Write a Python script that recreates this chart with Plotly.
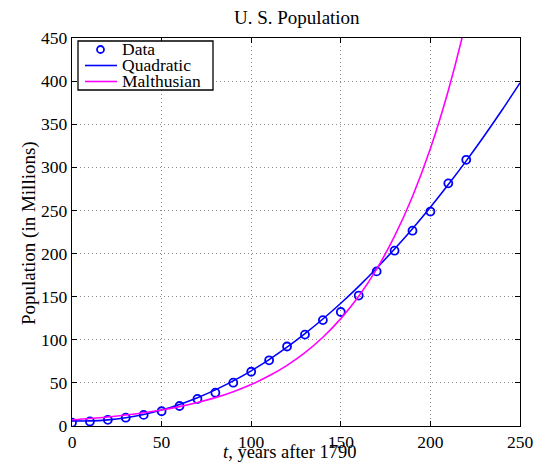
import plotly.graph_objects as go

# Census data (years after 1790, population in millions)
t_data = [0, 10, 20, 30, 40, 50, 60, 70, 80, 90, 100, 110, 120, 130, 140, 150, 160, 170, 180, 190, 200, 210, 220]
pop_data = [3.9, 5.3, 7.2, 9.6, 12.9, 17.1, 23.2, 31.4, 38.6, 50.2, 62.9, 76.2, 92.2, 106.0, 122.8, 132.2, 151.3, 179.3, 203.3, 226.5, 248.7, 281.4, 308.7]

# Fitted curves at 10-year steps
t_curve = [0, 10, 20, 30, 40, 50, 60, 70, 80, 90, 100, 110, 120, 130, 140, 150, 160, 170, 180, 190, 200, 210, 220, 230, 240, 250]
quad_vals = [6.0, 5.9, 7.1, 9.6, 13.4, 18.5, 25.0, 32.8, 41.9, 52.3, 64.0, 77.0, 91.4, 107.1, 124.1, 142.4, 162.0, 183.0, 205.3, 228.8, 253.7, 280.0, 307.5, 336.4, 366.5, 398.0]
malth_vals = [7.2, 8.7, 10.5, 12.7, 15.4, 18.6, 22.5, 27.2, 32.9, 39.8, 48.1, 58.2, 70.4, 85.1, 102.9, 124.5, 150.5, 182.0, 220.1, 266.2, 321.8, 389.2, 470.6, 569.1, 688.2, 832.2]

x_ticks = [0, 50, 100, 150, 200, 250]
y_ticks = [0, 50, 100, 150, 200, 250, 300, 350, 400, 450]
legend_names = ["Data", "Quadratic", "Malthusian"]

FONT = "Liberation Serif"
BLUE = "#0000ff"
MAGENTA = "#ff00ff"
W, H = 534, 464
L, R, T, B = 72, 14, 38, 38
PW, PH = W - L - R, H - T - B


def px(x):  # pixel x -> paper
    return (x - L) / PW


def py(y):  # pixel y -> paper
    return (H - B - y) / PH


fig = go.Figure()
fig.add_trace(go.Scatter(x=t_data, y=pop_data, mode="markers", name=legend_names[0],
                         marker=dict(symbol="circle-open", size=8, color=BLUE,
                                     line=dict(width=1.8, color=BLUE))))
fig.add_trace(go.Scatter(x=t_curve, y=quad_vals, mode="lines", name=legend_names[1],
                         line=dict(color=BLUE, width=1.6, shape="spline")))
fig.add_trace(go.Scatter(x=t_curve, y=malth_vals, mode="lines", name=legend_names[2],
                         line=dict(color=MAGENTA, width=1.6, shape="spline")))

axis_common = dict(showline=True, linecolor="black", linewidth=1.3, mirror="ticks",
                   ticks="inside", ticklen=5, tickcolor="black", automargin=False,
                   showgrid=True, gridcolor="#8c8c8c", griddash="1px,3px", gridwidth=1,
                   zeroline=False, tickfont=dict(family=FONT, size=17.5, color="black"))

# Custom legend (MATLAB style, compact rows)
shapes = [
    dict(type="rect", xref="paper", yref="paper", x0=px(78), x1=px(213), y0=py(90), y1=py(41),
         line=dict(color="black", width=1.3), fillcolor="white", layer="above"),
    dict(type="circle", xref="paper", yref="paper", x0=px(97), x1=px(104), y0=py(53), y1=py(46),
         line=dict(color=BLUE, width=1.8), layer="above"),
    dict(type="line", xref="paper", yref="paper", x0=px(85), x1=px(117), y0=py(65.5), y1=py(65.5),
         line=dict(color=BLUE, width=1.6), layer="above"),
    dict(type="line", xref="paper", yref="paper", x0=px(85), x1=px(117), y0=py(81.5), y1=py(81.5),
         line=dict(color=MAGENTA, width=1.6), layer="above"),
]
annotations = [
    dict(text=name, xref="paper", yref="paper", x=px(120), y=py(yy), xanchor="left", yanchor="middle",
         showarrow=False, font=dict(family=FONT, size=17.5, color="black"))
    for name, yy in zip(legend_names, [49, 65, 81])
]
annotations += [
    dict(text="U. S. Population", xref="paper", yref="paper", x=px(297), y=py(18),
         xanchor="center", yanchor="middle", showarrow=False,
         font=dict(family=FONT, size=19, color="black")),
    dict(text="<i>t</i>, years after 1790", xref="paper", yref="paper", x=px(290), y=py(452),
         xanchor="center", yanchor="middle", showarrow=False,
         font=dict(family=FONT, size=18.5, color="black")),
    dict(text="Population (in Millions)", xref="paper", yref="paper", x=px(29), y=py(233),
         xanchor="center", yanchor="middle", showarrow=False, textangle=-90,
         font=dict(family=FONT, size=19, color="black")),
]

fig.update_layout(
    width=W, height=H,
    margin=dict(l=L, r=R, t=T, b=B),
    paper_bgcolor="white", plot_bgcolor="white",
    font=dict(family=FONT, size=18, color="black"),
    xaxis=dict(range=[0, 250], tickvals=x_ticks, **axis_common),
    yaxis=dict(range=[0, 450], tickvals=y_ticks, **axis_common),
    showlegend=False,
    shapes=shapes,
    annotations=annotations,
)

fig.write_html("out.html", config={"displayModeBar": False},
               post_script="document.body.style.margin='0';document.body.style.padding='0';")
